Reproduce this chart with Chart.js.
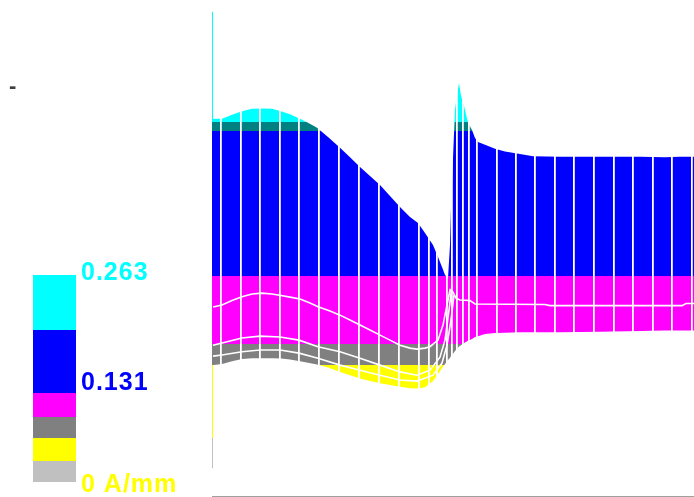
<!DOCTYPE html>
<html>
<head>
<meta charset="utf-8">
<script src="https://cdn.jsdelivr.net/npm/chart.js@4.4.1/dist/chart.umd.min.js"></script>
<style>
  html, body { margin: 0; padding: 0; background: #fff; }
  #wrap { position: relative; width: 694px; height: 497px; }
</style>
</head>
<body>
<div id="wrap"><canvas id="c" width="694" height="497"></canvas></div>
<script>
// position along the path (plot units) shared by the top and bottom envelope
const POS = [0, 10, 20, 30, 40, 50, 60, 69, 78, 88, 96, 105, 116, 128, 138, 148, 158, 168, 178, 188,
  198, 206, 213, 221, 226, 230, 233, 236, 238, 239, 241, 243, 245, 247, 249, 252, 256, 260, 263, 266,
  273, 283, 293, 308, 321, 348, 388, 428, 453, 468, 482];
// current density, upper envelope (A/mm)
const TOP = [0.2013, 0.2013, 0.2036, 0.2056, 0.2071, 0.2073, 0.2071, 0.2056, 0.2039, 0.2013,
  0.1990, 0.1961, 0.1909, 0.1846, 0.1791, 0.1736, 0.1684, 0.1632, 0.1569, 0.1505,
  0.1448, 0.1413, 0.1355, 0.1286, 0.1217, 0.1159, 0.1113, 0.1096, 0.1286, 0.1500,
  0.1788, 0.2065, 0.2151, 0.2220, 0.2146, 0.2088, 0.1990, 0.1949, 0.1903, 0.1880,
  0.1863, 0.1840, 0.1825, 0.1811, 0.1797, 0.1794, 0.1794, 0.1794, 0.1791, 0.1794, 0.1794];
// lower envelope (A/mm)
const BOTTOM = [0.0594, 0.0600, 0.0617, 0.0629, 0.0634, 0.0634, 0.0634, 0.0632, 0.0626, 0.0617,
  0.0608, 0.0597, 0.0580, 0.0555, 0.0536, 0.0517, 0.0502, 0.0489, 0.0479, 0.0469,
  0.0461, 0.0459, 0.0467, 0.0502, 0.0542, 0.0577, 0.0600, 0.0623, 0.0637, 0.0646,
  0.0660, 0.0675, 0.0689, 0.0701, 0.0709, 0.0721, 0.0735, 0.0744, 0.0756, 0.0761,
  0.0773, 0.0779, 0.0781, 0.0784, 0.0784, 0.0784, 0.0787, 0.0790, 0.0793, 0.0793, 0.0793];

// white inner curves
const C1_X = [1, 10, 20, 30, 40, 50, 60, 69, 78, 88, 98, 106, 118, 128, 138, 148, 158, 168, 178, 188,
  198, 205, 213, 218, 226, 231, 235, 238, 241, 244, 248, 258, 263, 333, 338, 470, 474, 482];
const C1_Y = [0.0929, 0.0940, 0.0966, 0.0988, 0.1004, 0.1009, 0.1004, 0.0995, 0.0986, 0.0975,
  0.0952, 0.0930, 0.0906, 0.0882, 0.0854, 0.0825, 0.0796, 0.0767, 0.0738, 0.0709,
  0.0692, 0.0686, 0.0692, 0.0700, 0.0738, 0.0825, 0.0940, 0.1027, 0.1015, 0.0980,
  0.0969, 0.0966, 0.0946, 0.0943, 0.0937, 0.0937, 0.0949, 0.0949];
const C2_X = [1, 10, 30, 48, 68, 87, 106, 128, 148, 168, 188, 205, 218, 228, 233, 237, 240];
const C2_Y = [0.0709, 0.0721, 0.0750, 0.0761, 0.0756, 0.0738, 0.0700, 0.0671, 0.0634, 0.0594,
  0.0555, 0.0536, 0.0565, 0.0640, 0.0738, 0.0911, 0.1055];
const C3_X = [1, 10, 30, 48, 68, 87, 106, 128, 148, 168, 188, 205, 221, 230, 235, 239, 242];
const C3_Y = [0.0646, 0.0652, 0.0671, 0.0681, 0.0681, 0.0663, 0.0634, 0.0594, 0.0565, 0.0536,
  0.0508, 0.0502, 0.0536, 0.0606, 0.0709, 0.0854, 0.0998];

// element boundaries (vertical mesh lines)
const MESH = [9, 28.7, 48, 67.5, 87, 106.5, 127, 147, 167, 187, 207, 216.5, 224.5, 235, 240, 245,
  251, 257, 264.5, 284.5, 304, 323, 342.5, 362, 382, 401.5, 421.3, 440.7, 460, 480];

// colour levels, top to bottom (A/mm)
const LEVELS = [0.1996, 0.1944, 0.1107, 0.0715, 0.0594, 0.0173];
const BAND_COLORS = ['#00ffff', '#008080', '#0000ff', '#ff00ff', '#808080', '#ffff00', '#c0c0c0'];

const LEGEND_COLORS = ['#00ffff', '#0000ff', '#ff00ff', '#808080', '#ffff00', '#c0c0c0'];
const LEGEND_LABELS = ['0.263', '0.131', '0 A/mm'];
const LEGEND_LABEL_COLORS = ['#00ffff', '#0000ff', '#ffff00'];
const MAX_VALUE = 0.263;

const pts = (xs, ys) => xs.map((x, i) => ({ x, y: ys[i] }));

let gradCache = null;
function bandGradient(chart) {
  const area = chart.chartArea;
  if (!area) return BAND_COLORS[2];
  const key = area.top + ':' + area.bottom;
  if (gradCache && gradCache.key === key) return gradCache.g;
  const y = chart.scales.y;
  const h = area.bottom - area.top;
  const off = v => Math.min(1, Math.max(0, (y.getPixelForValue(v) - area.top) / h));
  const g = chart.ctx.createLinearGradient(0, area.top, 0, area.bottom);
  const edges = [y.max, ...LEVELS, y.min];
  BAND_COLORS.forEach((col, i) => {
    g.addColorStop(off(edges[i]), col);
    g.addColorStop(off(edges[i + 1]), col);
  });
  gradCache = { key, g };
  return g;
}

// legend box on the left + stray tick mark
const legendPlugin = {
  id: 'bandLegend',
  afterDraw(chart) {
    const ctx = chart.ctx;
    ctx.save();
    const edges = [275, 330, 393, 417, 438, 461, 482];
    LEGEND_COLORS.forEach((col, i) => {
      ctx.fillStyle = col;
      ctx.fillRect(33, edges[i], 43, edges[i + 1] - edges[i]);
    });
    ctx.font = 'bold 25px "Liberation Sans", Arial, sans-serif';
    ctx.letterSpacing = '1px';
    ctx.textBaseline = 'alphabetic';
    const ys = [280, 390, 492];
    LEGEND_LABELS.forEach((t, i) => {
      ctx.fillStyle = LEGEND_LABEL_COLORS[i];
      ctx.fillText(t, 81, ys[i]);
    });
    ctx.letterSpacing = '0px';
    ctx.font = 'bold 22px "Liberation Sans", Arial, sans-serif';
    ctx.fillStyle = '#404040';
    ctx.fillText('-', 9, 93);
    ctx.restore();
  }
};

new Chart(document.getElementById('c'), {
  type: 'line',
  data: {
    datasets: [
      { data: pts(C1_X, C1_Y), borderColor: '#ffffff', borderWidth: 1.6, pointRadius: 0, fill: false },
      { data: pts(C2_X, C2_Y), borderColor: '#ffffff', borderWidth: 1.6, pointRadius: 0, fill: false },
      { data: pts(C3_X, C3_Y), borderColor: '#ffffff', borderWidth: 1.6, pointRadius: 0, fill: false },
      { data: [{ x: 0, y: MAX_VALUE }, { x: 0, y: 0 }], borderColor: (c) => bandGradient(c.chart), borderWidth: 2, pointRadius: 0, fill: false },
      { data: pts(POS, TOP), borderColor: 'rgba(0,0,0,0)', borderWidth: 0, pointRadius: 0,
        backgroundColor: (c) => bandGradient(c.chart), fill: '+1' },
      { data: pts(POS, BOTTOM), borderColor: 'rgba(0,0,0,0)', borderWidth: 0, pointRadius: 0, fill: false }
    ]
  },
  options: {
    responsive: false,
    animation: false,
    layout: { padding: { left: 212, top: 10, right: 0, bottom: 1 } },
    plugins: { legend: { display: false }, tooltip: { enabled: false } },
    scales: {
      x: {
        type: 'linear', min: 0, max: 482,
        afterBuildTicks: (s) => { s.ticks = MESH.map(v => ({ value: v })); },
        ticks: { display: false },
        grid: { color: '#ffffff', lineWidth: 1.8, drawTicks: false, z: 1 },
        border: { display: true, color: '#a0a0a0', width: 1, z: 2 }
      },
      y: { display: false, min: -0.016, max: 0.264 }
    }
  },
  plugins: [legendPlugin]
});
</script>
</body>
</html>
